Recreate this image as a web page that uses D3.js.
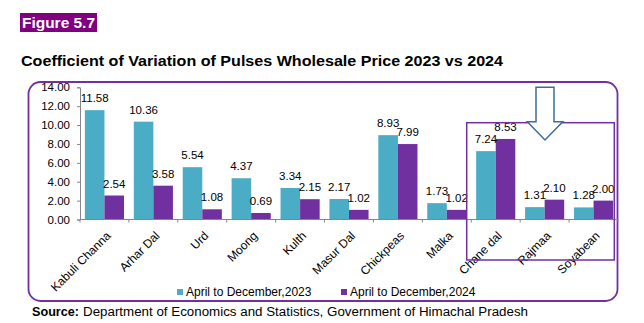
<!DOCTYPE html>
<html>
<head>
<meta charset="utf-8">
<script src="https://cdn.jsdelivr.net/npm/d3@7"></script>
<style>
  html, body { margin: 0; padding: 0; background: #fff; }
  svg { display: block; font-family: "Liberation Sans", Arial, sans-serif; }
</style>
</head>
<body>
<div id="chart"></div>
<script>
const categories = ['Kabuli Channa', 'Arhar Dal', 'Urd', 'Moong', 'Kulth', 'Masur Dal',
  'Chickpeas', 'Malka', 'Chane dal', 'Rajmaa', 'Soyabean'];
const series = ['April to December,2023', 'April to December,2024'];
const values2023 = [11.58, 10.36, 5.54, 4.37, 3.34, 2.17, 8.93, 1.73, 7.24, 1.31, 1.28];
const values2024 = [2.54, 3.58, 1.08, 0.69, 2.15, 1.02, 7.99, 1.02, 8.53, 2.10, 2.00];
const yTicks = [0, 2, 4, 6, 8, 10, 12, 14];
const colors = ['#4BACC6', '#7030A0'];

const W = 644, H = 323;
const svg = d3.select('#chart').append('svg')
  .attr('width', W)
  .attr('height', H);

// Figure tag and heading
svg.append('rect')
  .attr('x', 20).attr('y', 13)
  .attr('width', 77).attr('height', 19)
  .attr('fill', '#800080');
svg.append('text')
  .attr('x', 22).attr('y', 28)
  .attr('fill', '#fff')
  .attr('font-weight', 'bold')
  .attr('font-size', 15)
  .attr('textLength', 73)
  .attr('lengthAdjust', 'spacingAndGlyphs')
  .text('Figure 5.7');

svg.append('text')
  .attr('x', 21).attr('y', 65.5)
  .attr('font-weight', 'bold')
  .attr('font-size', 14)
  .attr('textLength', 482)
  .attr('lengthAdjust', 'spacingAndGlyphs')
  .attr('fill', '#000')
  .text('Coefficient of Variation of Pulses Wholesale Price 2023 vs 2024');

// Rounded frame around the chart
svg.append('rect')
  .attr('x', 28.5).attr('y', 82)
  .attr('width', 589).attr('height', 219)
  .attr('rx', 12).attr('ry', 12)
  .attr('fill', 'none')
  .attr('stroke', '#7030A0')
  .attr('stroke-width', 1.8);

const plot = { left: 80, right: 618, top: 87.3, bottom: 219.5 };

const x0 = d3.scaleBand()
  .domain(categories)
  .range([plot.left, plot.right])
  .padding(0);

const x1 = d3.scaleBand()
  .domain(series)
  .range([0, x0.bandwidth()])
  .paddingInner(0)
  .paddingOuter(0.25);

const y = d3.scaleLinear()
  .domain([0, 14])
  .range([plot.bottom, plot.top]);

const rows = categories.map((c, i) => ({
  cat: c,
  vals: [
    { s: series[0], v: values2023[i], k: 0 },
    { s: series[1], v: values2024[i], k: 1 }
  ]
}));

// Bars
const groups = svg.append('g')
  .selectAll('g')
  .data(rows)
  .join('g')
  .attr('transform', d => `translate(${x0(d.cat)},0)`);

groups.selectAll('rect')
  .data(d => d.vals)
  .join('rect')
  .attr('x', d => x1(d.s))
  .attr('y', d => y(d.v))
  .attr('width', x1.bandwidth())
  .attr('height', d => y(0) - y(d.v))
  .attr('fill', d => colors[d.k]);

// Value labels
groups.selectAll('text')
  .data(d => d.vals)
  .join('text')
  .attr('x', d => x1(d.s) + x1.bandwidth() / 2)
  .attr('y', d => y(d.v) - 8)
  .attr('text-anchor', 'middle')
  .attr('font-size', 11.5)
  .attr('fill', '#000')
  .text(d => d.v.toFixed(2));

// Y axis
const yAxis = svg.append('g')
  .attr('transform', `translate(${plot.left},0)`)
  .call(d3.axisLeft(y).tickValues(yTicks).tickSize(3).tickPadding(7)
    .tickFormat(d => d.toFixed(2)));
yAxis.select('.domain').attr('stroke', '#868686');
yAxis.selectAll('.tick line').attr('stroke', '#868686');
yAxis.selectAll('.tick text')
  .attr('font-size', 11.5)
  .attr('fill', '#000')
  .attr('font-family', '"Liberation Sans", Arial, sans-serif');

// X axis: baseline with ticks at the category boundaries
const edges = categories.map(c => x0(c)).concat([plot.right]);
svg.append('line')
  .attr('x1', plot.left).attr('x2', plot.right)
  .attr('y1', y(0)).attr('y2', y(0))
  .attr('stroke', '#868686');
svg.append('g')
  .selectAll('line')
  .data(edges)
  .join('line')
  .attr('x1', d => d).attr('x2', d => d)
  .attr('y1', y(0)).attr('y2', y(0) + 3)
  .attr('stroke', '#868686');

svg.append('g')
  .selectAll('text')
  .data(categories)
  .join('text')
  .attr('transform', d => `translate(${x0(d) + x0.bandwidth() / 2 + 7},${y(0) + 17}) rotate(-45)`)
  .attr('text-anchor', 'end')
  .attr('font-size', 12)
  .attr('fill', '#000')
  .text(d => d);

// Highlight box around the last three pulses and the pointer arrow
svg.append('rect')
  .attr('x', 466.7).attr('y', 122.7)
  .attr('width', 147.6).attr('height', 137.3)
  .attr('fill', 'none')
  .attr('stroke', '#7030A0')
  .attr('stroke-width', 1.5);

svg.append('path')
  .attr('d', 'M536,87.3 L554,87.3 L554,121.7 L562.7,121.7 L545,140 L527.3,121.7 L536,121.7 Z')
  .attr('fill', '#fff')
  .attr('stroke', '#3E6B98')
  .attr('stroke-width', 1.5);

// Legend
const legendX = [177, 341];
const legend = svg.append('g')
  .selectAll('g')
  .data(series)
  .join('g')
  .attr('transform', (d, i) => `translate(${legendX[i]},289)`);
legend.append('rect')
  .attr('width', 6).attr('height', 6)
  .attr('fill', (d, i) => colors[i]);
legend.append('text')
  .attr('x', 9).attr('y', 7)
  .attr('font-size', 12)
  .attr('fill', '#000')
  .text(d => d);

// Source line
const src = svg.append('g');
src.append('text')
  .attr('x', 32).attr('y', 316)
  .attr('font-size', 12.5)
  .attr('font-weight', 'bold')
  .attr('textLength', 47)
  .attr('lengthAdjust', 'spacingAndGlyphs')
  .text('Source:');
src.append('text')
  .attr('x', 83).attr('y', 316)
  .attr('font-size', 12.5)
  .attr('textLength', 445)
  .attr('lengthAdjust', 'spacingAndGlyphs')
  .text('Department of Economics and Statistics, Government of Himachal Pradesh');
</script>
</body>
</html>
